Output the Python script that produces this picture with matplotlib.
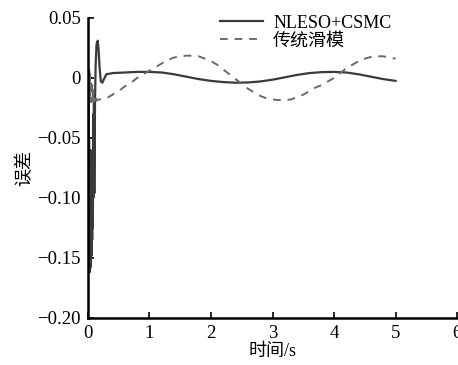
import matplotlib
matplotlib.use("Agg")
import matplotlib.pyplot as plt

plt.rcParams['font.family'] = ['Liberation Serif', 'Noto Sans CJK SC']
plt.rcParams['axes.unicode_minus'] = True

# NLESO+CSMC error (solid)
t_nleso = [0.000, 0.003, 0.006, 0.009, 0.012, 0.015, 0.018, 0.021, 0.024, 0.027,
           0.030, 0.033, 0.036, 0.039, 0.042, 0.045, 0.048, 0.051, 0.054, 0.057,
           0.060, 0.063, 0.066, 0.069, 0.072, 0.075, 0.078, 0.081, 0.084, 0.087,
           0.090, 0.094, 0.098, 0.102, 0.105, 0.110, 0.115, 0.125, 0.140, 0.160,
           0.175, 0.190, 0.210, 0.235, 0.260, 0.300, 0.400, 0.600, 0.800, 1.000,
           1.200, 1.400, 1.600, 1.800, 2.000, 2.200, 2.400, 2.600, 2.800, 3.000,
           3.200, 3.400, 3.600, 3.800, 4.000, 4.200, 4.400, 4.600, 4.800, 5.000]
e_nleso = [0.000, -0.040, -0.010, -0.080, -0.030, -0.120, -0.050, -0.150, -0.060, -0.162,
           -0.070, -0.160, -0.060, -0.158, -0.080, -0.155, -0.070, -0.150, -0.090, -0.148,
           -0.080, -0.140, -0.100, -0.135, -0.090, -0.125, -0.060, -0.110, -0.040, -0.100,
           -0.030, -0.095, -0.020, -0.090, -0.096, -0.060, -0.020, 0.010, 0.028, 0.031,
           0.022, 0.008, -0.003, -0.004, -0.001, 0.003, 0.004, 0.0045, 0.005, 0.005,
           0.0045, 0.003, 0.001, -0.001, -0.0025, -0.0035, -0.004, -0.0038, -0.003, -0.0015,
           0.0005, 0.0025, 0.004, 0.0048, 0.005, 0.0045, 0.003, 0.001, -0.001, -0.0025]

# conventional sliding mode error (dashed)
t_smc = [0.000, 0.006, 0.012, 0.018, 0.024, 0.030, 0.036, 0.042, 0.050, 0.060,
         0.070, 0.080, 0.090, 0.100, 0.120, 0.140, 0.170, 0.200, 0.300, 0.400,
         0.500, 0.600, 0.700, 0.800, 0.900, 1.000, 1.100, 1.200, 1.300, 1.400,
         1.500, 1.600, 1.700, 1.800, 1.900, 2.000, 2.100, 2.200, 2.300, 2.400,
         2.500, 2.600, 2.700, 2.800, 2.900, 3.000, 3.100, 3.200, 3.300, 3.400,
         3.500, 3.600, 3.700, 3.800, 3.900, 4.000, 4.100, 4.200, 4.300, 4.400,
         4.500, 4.600, 4.700, 4.800, 4.900, 5.000]
e_smc = [0.000, -0.010, 0.005, -0.015, 0.008, -0.018, 0.003, -0.020, -0.002, -0.020,
         -0.006, -0.020, -0.010, -0.020, -0.014, -0.019, -0.018, -0.018, -0.017, -0.014,
         -0.011, -0.007, -0.004, 0.000, 0.003, 0.006, 0.009, 0.012, 0.015, 0.017,
         0.018, 0.0185, 0.0185, 0.018, 0.016, 0.014, 0.011, 0.007, 0.003, -0.001,
         -0.005, -0.009, -0.012, -0.015, -0.017, -0.018, -0.0185, -0.0185, -0.018, -0.016,
         -0.014, -0.011, -0.008, -0.006, -0.003, 0.000, 0.004, 0.008, 0.011, 0.014,
         0.016, 0.0175, 0.018, 0.018, 0.017, 0.016]

xticks = [0, 1, 2, 3, 4, 5, 6]
yticks = [0.05, 0, -0.05, -0.10, -0.15, -0.20]
ytick_labels = ['0.05', '0', '\u22120.05', '\u22120.10', '\u22120.15', '\u22120.20']

fig = plt.figure(figsize=(4.58, 3.65), dpi=100)
ax = fig.add_axes([0.192, 0.129, 0.806, 0.822])

ax.plot(t_nleso, e_nleso, color='#3a3a3a', lw=1.6, label='NLESO+CSMC')
ax.plot(t_smc, e_smc, color='#6a6a6a', lw=1.4, dashes=(4, 3.5), label='传统滑模')

ax.set_xlim(0, 6)
ax.set_ylim(-0.20, 0.05)
ax.set_xticks(xticks)
ax.set_yticks(yticks)
ax.set_yticklabels(ytick_labels)

for side in ['top', 'right']:
    ax.spines[side].set_visible(False)
for side in ['left', 'bottom']:
    ax.spines[side].set_linewidth(1.8)
ax.tick_params(direction='in', length=4, width=1.2, labelsize=13.5, pad=5)
for lab in ax.get_xticklabels():
    lab.set_clip_on(False)

ax.set_xlabel('时间/s', fontsize=13, labelpad=1)
ax.set_ylabel('误差', fontsize=13, labelpad=3)

ax.legend(loc='upper left', bbox_to_anchor=(0.480, 0.960), bbox_transform=fig.transFigure,
          frameon=False, fontsize=13, handlelength=2.4, handletextpad=0.55,
          labelspacing=0.05, borderpad=0, borderaxespad=0)

fig.savefig('out.png', dpi=100)
